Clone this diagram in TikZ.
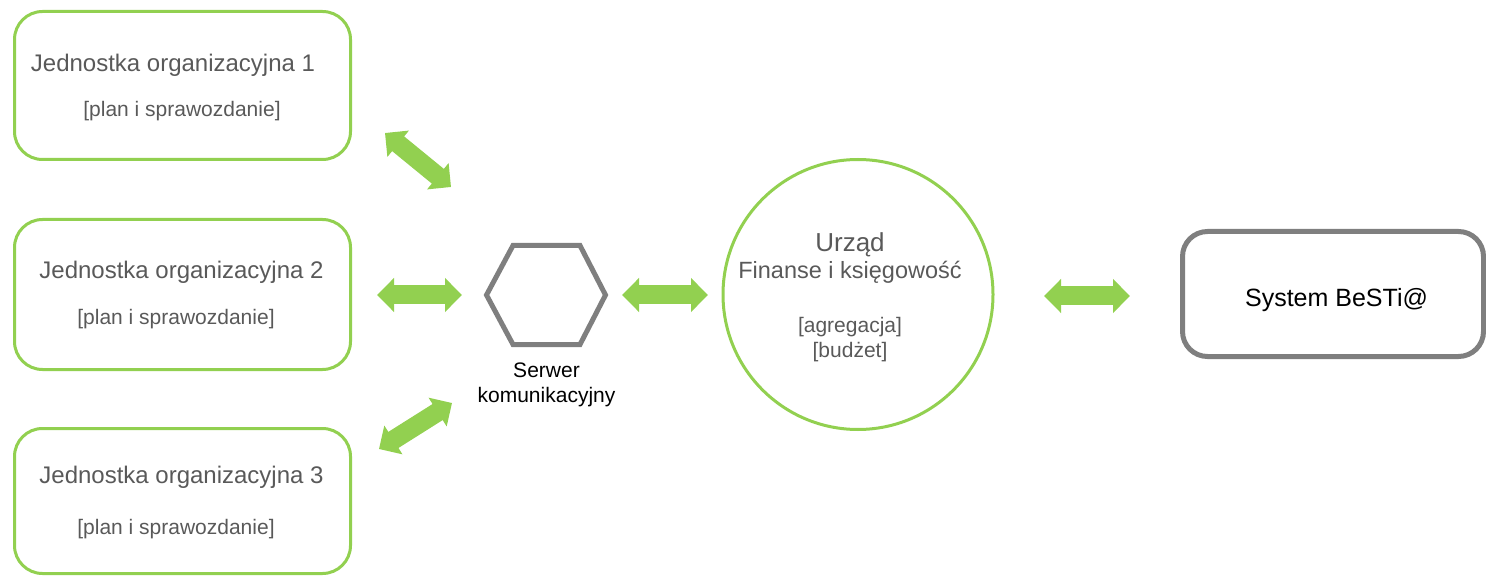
\documentclass[tikz,border=0pt]{standalone}
\usepackage{fontspec}
\setmainfont{Liberation Sans}
\usetikzlibrary{arrows.meta}
\definecolor{grn}{HTML}{92D050}
\definecolor{gry}{HTML}{7F7F7F}
\definecolor{txtg}{HTML}{595959}
\tikzset{
  unitbox/.style={draw=grn, line width=3pt, rounded corners=28pt, minimum width=336pt, minimum height=148pt, inner sep=0pt},
  titletxt/.style={text=txtg, font=\fontsize{24}{29}\selectfont, anchor=base, inner sep=0pt},
  subtxt/.style={text=txtg, font=\fontsize{21}{25}\selectfont, anchor=base, inner sep=0pt},
  blacktxt/.style={text=black, font=\fontsize{21}{25}\selectfont, anchor=base, inner sep=0pt},
  bigarrow/.style={draw=grn, line width=19pt, line cap=butt,
    {Triangle[width=33pt,length=17pt]}-{Triangle[width=33pt,length=17pt]}},
}
\begin{document}
\begin{tikzpicture}[x=1pt,y=-1pt]
\useasboundingbox (0,0) rectangle (1486,577);
% unit boxes
\node[unitbox, minimum height=148pt] (b1) at (182.5,85.5) {};
\node[unitbox, minimum height=150pt] (b2) at (182.5,294.5) {};
\node[unitbox, minimum height=145pt] (b3) at (182.5,501) {};
\node[titletxt] (t1) at (173,72) {Jednostka organizacyjna 1};
\node[subtxt] (s1) at (182,117) {[plan i sprawozdanie]};
\node[titletxt] (t2) at (181.5,279) {Jednostka organizacyjna 2};
\node[subtxt] (s2) at (176,325) {[plan i sprawozdanie]};
\node[titletxt] (t3) at (181.5,483) {Jednostka organizacyjna 3};
\node[subtxt] (s3) at (176,534) {[plan i sprawozdanie]};
% hexagon server
\coordinate (hex) at (546,295);
\draw[gry, line width=5pt, line join=miter]
  (486.5,295) -- (513,245.5) -- (580,245.5) -- (605.5,295) -- (580,344.5) -- (513,344.5) -- cycle;
\node[blacktxt] (sv1) at (546.5,377) {Serwer};
\node[blacktxt] (sv2) at (546.5,402) {komunikacyjny};
% office circle
\node[draw=grn, line width=3pt, circle, minimum size=270pt, inner sep=0pt] (urz) at (858,294.5) {};
\node[text=txtg, font=\fontsize{26}{30}\selectfont, anchor=base, inner sep=0pt] (u1) at (850,252) {Urząd};
\node[text=txtg, font=\fontsize{23.5}{28}\selectfont, anchor=base, inner sep=0pt] (u2) at (850,279) {Finanse i księgowość};
\node[subtxt] (u3) at (850,333) {[agregacja]};
\node[subtxt] (u4) at (850,357) {[budżet]};
% system box
\node[draw=gry, line width=5pt, rounded corners=25pt, minimum width=301pt, minimum height=125pt, inner sep=0pt] (sys) at (1333,294) {};
\node[text=black, font=\fontsize{25}{30}\selectfont, anchor=base, inner sep=0pt] (syst) at (1336.5,307) {System BeSTi@};
% arrows
\coordinate (a1s) at (385,133); \coordinate (a1e) at (451,187);
\coordinate (a2s) at (377,295); \coordinate (a2e) at (462,295);
\coordinate (a3s) at (379,449); \coordinate (a3e) at (452,403);
\coordinate (a4s) at (622,295); \coordinate (a4e) at (708,295);
\coordinate (a5s) at (1044,296); \coordinate (a5e) at (1130,296);
\draw[bigarrow] (a1s) -- (a1e);
\draw[bigarrow] (a2s) -- (a2e);
\draw[bigarrow] (a3s) -- (a3e);
\draw[bigarrow] (a4s) -- (a4e);
\draw[bigarrow] (a5s) -- (a5e);
\end{tikzpicture}
\end{document}
